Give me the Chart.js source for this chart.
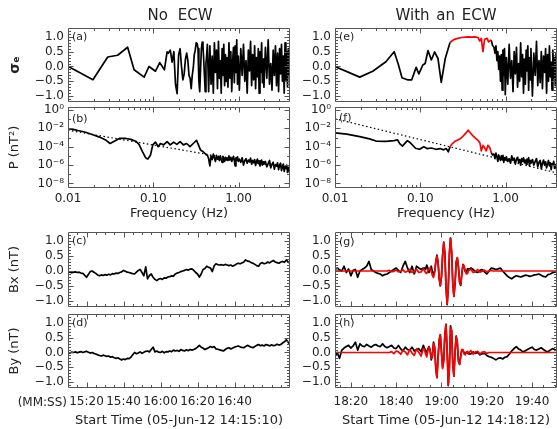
<!DOCTYPE html>
<html><head><meta charset="utf-8">
<script src="https://cdn.jsdelivr.net/npm/chart.js@4.4.1/dist/chart.umd.min.js"></script>
<style>
html,body{margin:0;padding:0;background:#fff;}
body{width:557px;height:429px;overflow:hidden;position:relative;font-family:'DejaVu Sans',sans-serif;color:#222;}
canvas{position:absolute;}
.t{position:absolute;white-space:nowrap;line-height:1;}
</style></head><body>
<canvas id="pa" width="300" height="102" style="left:0px;top:14px"></canvas>
<canvas id="pb" width="300" height="130" style="left:0px;top:93px"></canvas>
<canvas id="pc" width="300" height="103" style="left:0px;top:218px"></canvas>
<canvas id="pd" width="300" height="129" style="left:0px;top:300px"></canvas>
<canvas id="pe" width="265" height="102" style="left:292px;top:14px"></canvas>
<canvas id="pf" width="265" height="130" style="left:292px;top:93px"></canvas>
<canvas id="pg" width="265" height="103" style="left:292px;top:218px"></canvas>
<canvas id="ph" width="265" height="129" style="left:292px;top:300px"></canvas>

<div class="t" style="left:180px;top:15px;transform:translate(-50%,-50%);font-size:15px;word-spacing:5px">No ECW</div>
<div class="t" style="left:446px;top:15px;transform:translate(-50%,-50%);font-size:15px;word-spacing:2px">With an ECW</div>
<div class="t" style="left:72px;top:31px;font-size:11px">(a)</div>
<div class="t" style="left:72px;top:113px;font-size:11px">(b)</div>
<div class="t" style="left:72px;top:235px;font-size:11px">(c)</div>
<div class="t" style="left:72px;top:317px;font-size:11px">(d)</div>
<div class="t" style="left:339px;top:31px;font-size:11px">(e)</div>
<div class="t" style="left:339px;top:112px;font-size:11px">(f)</div>
<div class="t" style="left:339px;top:236px;font-size:11px">(g)</div>
<div class="t" style="left:339px;top:317px;font-size:11px">(h)</div>
<div class="t" style="right:490px;top:396px;font-size:12px">(MM:SS)</div>

<script>
// ================= DATA =================
// frequency grids (Hz) used by the noisy parts of the spectra
const fG1 = [0.150,0.158,0.166,0.174,0.182,0.190,0.198,0.206,0.214,0.222,0.230,0.238,0.246,0.254,0.262,0.270,0.278,0.286,0.294,0.302,0.310,0.318,0.326,0.334,0.342,0.350,0.358,0.366,0.374,0.382,0.390,0.398,0.406,0.414,0.422];
const fG2 = [0.430,0.445,0.460,0.475,0.490,0.505,0.520,0.535,0.550,0.565,0.580,0.595,0.610,0.625,0.640,0.655,0.670,0.685,0.700,0.715];
const fG3 = [0.73,0.75,0.77,0.79,0.81,0.83,0.85,0.87,0.89,0.91,0.93,0.95,0.97,0.99,
  1.02,1.06,1.10,1.14,1.18,1.22,1.26,1.30,1.34,1.38,1.42,1.46,1.50,1.54,1.58,1.62,1.66,1.70,1.74,1.78,1.82,1.86,1.90,1.94,1.98,
  2.06,2.14,2.22,2.30,2.38,2.46,2.54,2.62,2.70,2.78,2.86,2.94,3.02,3.10,3.18,3.26,3.34,3.42,3.50,3.58,3.66,3.74,3.82,3.90,3.98];

// (a) sigma_e, no ECW
const sigASmoothF = [0.0101,0.0196,0.0292,0.0382,0.050,0.0595,0.078,0.089,0.106,0.119,0.135,0.145];
const sigASmoothV = [0.0,-0.45,0.32,0.38,0.65,-0.11,-0.36,0.0,-0.16,0.13,-0.11,0.49];
const sigAG1 = [0.45,0.55,0.15,0.5,-0.6,-0.92,0.4,0.6,0.0,-0.45,-0.25,0.25,0.45,0.2,-0.3,-0.4,-0.75,-0.3,-0.05,0.4,0.55,0.8,0.78,0.6,-0.5,-0.85,-0.1,0.6,0.82,0.7,0.2,-0.35,-0.85,0.1,0.38];
const sigAG2 = [0.75,-0.85,0.7,-0.6,0.35,-0.9,0.8,-0.2,0.55,-0.75,0.85,-0.4,0.2,-0.9,0.6,-0.3,0.75,-0.65,0.4,-0.5];
const sigAG3 = [0.3,-0.7,0.8,-0.4,0.5,-0.85,0.15,0.65,-0.55,0.7,-0.2,0.9,-0.6,0.35,
  -0.8,0.6,-0.3,0.75,-0.5,0.2,-0.9,0.55,-0.15,0.85,-0.65,0.4,-0.45,0.7,-0.75,0.3,-0.35,0.6,-0.9,0.5,-0.2,0.8,-0.55,0.25,-0.7,
  0.65,-0.4,0.9,-0.6,0.1,-0.8,0.55,-0.3,0.7,-0.65,0.45,-0.85,0.6,-0.25,0.75,-0.5,0.35,-0.9,0.8,-0.45,0.5,-0.7,0.6,-0.3,0.4];

// (b) power, no ECW (log10 of nT^2)
const powBSmoothF = [0.0101,0.0126,0.0157,0.0196,0.0234,0.028,0.0311,0.0349,0.0399,0.0477,0.0545,0.0622,0.068,0.0743,0.0812,0.0863,0.0927,0.0986,0.106,0.114,0.121,0.132,0.145,0.158,0.173,0.189,0.206,0.225,0.246,0.269,0.294,0.321,0.336,0.357,0.384,0.419];
const logPowBSmooth = [-2.03,-2.2,-2.4,-2.7,-2.95,-3.3,-3.65,-3.4,-3.1,-3.1,-3.2,-3.4,-3.75,-4.5,-5.2,-5.35,-4.9,-3.8,-3.5,-4.0,-3.65,-3.8,-3.45,-3.8,-3.5,-3.75,-3.45,-3.8,-3.65,-4.0,-3.65,-3.3,-3.75,-4.35,-4.55,-4.9];
const logPowBG2 = [-4.9,-5.3,-6.1,-5.0,-5.4,-4.8,-5.2,-5.6,-4.95,-5.35,-5.1,-5.5,-5.0,-5.4,-5.7,-5.05,-5.3,-5.6,-5.15,-5.45];
const logPowBG3 = [-5.2,-5.5,-5.0,-5.45,-5.15,-5.6,-5.3,-5.05,-5.5,-6.1,-5.2,-5.45,-5.1,-5.6,
  -5.35,-5.7,-5.2,-6.0,-5.5,-5.3,-5.8,-5.45,-5.65,-5.25,-5.9,-5.5,-5.75,-5.4,-6.05,-5.6,-5.35,-5.85,-5.55,-6.1,-5.7,-5.45,-6.0,-5.65,-5.9,
  -5.6,-6.2,-5.85,-5.5,-6.3,-5.9,-5.7,-6.45,-5.95,-6.1,-5.75,-6.5,-6.0,-5.8,-6.6,-6.15,-5.9,-6.7,-6.2,-6.35,-6.0,-6.8,-6.25,-6.5,-6.9];
const fitF = [0.01, 4];
const logFitB = [-2.2, -6.4];

// (e) sigma_e, with ECW
const sigESmoothF = [0.01,0.0195,0.0277,0.0395,0.0494,0.0555,0.061,0.0705,0.0793,0.0893,0.0961,0.107,0.114,0.123,0.1347,0.147,0.161,0.176,0.196,0.223];
const sigESmoothV = [0.0,-0.36,-0.16,0.16,0.5,0.05,-0.38,-0.45,-0.45,-0.03,-0.25,0.05,0.1,0.54,0.22,0.49,0.27,-0.54,0.27,0.81];
const sigERedF = [0.223,0.244,0.267,0.305,0.335,0.364,0.40,0.434,0.475,0.496,0.519,0.542,0.567,0.608,0.631,0.677];
const sigERedV = [0.81,0.9,0.94,0.98,0.99,1.0,0.99,1.0,0.98,0.86,0.95,0.5,0.92,0.95,0.83,0.9];
const sigELinkF = [0.677,0.70];
const sigELinkV = [0.9,0.72];
const sigEG3 = [0.65,0.45,0.7,0.2,0.5,-0.1,0.35,-0.5,0.4,-0.8,0.55,-0.3,0.6,-0.95,
  0.3,-0.6,0.75,-0.4,0.2,-0.85,0.5,-0.25,0.65,-0.7,0.1,-0.5,0.8,-0.35,0.4,-0.9,0.25,-0.6,0.55,-0.15,0.7,-0.8,0.3,-0.45,0.6,
  -1.0,0.45,-0.3,0.85,-0.65,0.2,-0.55,0.5,-0.75,0.35,-0.2,0.6,-0.9,0.4,-0.5,0.7,-0.35,0.15,-0.8,0.55,-0.4,0.3,-0.65,0.45,-0.1];

// (f) power, with ECW (log10 of nT^2)
const powFSmoothF = [0.01,0.0137,0.0195,0.0254,0.0303,0.0396,0.0494,0.054,0.0574,0.0617,0.0705,0.0769,0.0879,0.0978,0.11,0.12,0.1347,0.152,0.171,0.187,0.201,0.213,0.223];
const logPowFSmooth = [-2.48,-2.62,-2.9,-3.14,-3.38,-3.41,-3.34,-3.24,-3.66,-3.93,-3.34,-3.59,-4.17,-4.28,-4.0,-4.2,-4.14,-4.28,-4.2,-4.34,-4.2,-4.55,-4.0];
const powFRedF = [0.223,0.238,0.255,0.279,0.299,0.318,0.339,0.364,0.391,0.415,0.442,0.475,0.5,0.519,0.542,0.567,0.592,0.619,0.653,0.677];
const logPowFRed = [-4.0,-3.66,-3.41,-3.24,-3.07,-2.83,-2.55,-2.2,-2.55,-2.83,-3.07,-3.31,-3.59,-4.45,-3.86,-4.1,-4.45,-3.86,-4.1,-4.62];
const powFLinkF = [0.677,0.70];
const logPowFLink = [-4.62,-4.9];
const logPowFG3 = [-4.8,-5.3,-4.7,-5.1,-5.6,-4.9,-5.2,-5.5,-5.0,-5.4,-4.95,-5.7,-5.2,-5.45,
  -5.1,-5.6,-5.3,-5.8,-5.0,-5.5,-5.25,-5.9,-5.35,-5.15,-5.7,-5.4,-6.0,-5.3,-5.6,-5.2,-5.75,-5.45,-5.9,-5.35,-5.65,-5.2,-6.1,-5.5,-5.8,
  -5.4,-6.0,-5.6,-5.3,-6.2,-5.7,-5.5,-6.4,-5.8,-5.45,-6.0,-5.65,-6.3,-5.9,-5.5,-6.1,-5.75,-6.5,-5.85,-6.0,-5.6,-6.35,-5.95,-6.2,-6.6];
const logFitF = [-0.95, -6.86];

// (c),(d) time series, no ECW: seconds after 14:15:10
const tLeft = [0,1,2,3,4,5,6,7,8,9,10,11,12,13,14,15,16,17,18,19,20,21,22,23,24,25,26,27,28,29,30,31,32,33,34,35,36,37,38,39,40,41,42,43,44,45,46,47,48,49,50,51,52,53,54,55,56,57,58,59,60,61,62,63,64,65,66,67,68,69,70,71,72,73,74,75,76,77,78,79,80,81,82,83,84,85,86,87,88,89,90,91,92,93,94,95,96,97,98,99,100,101,102,103,104,105,106,107,108,109,110,111,112,113,114,115,116,117,118,119,120];
const bxLeft = [-0.05,-0.03,-0.06,-0.04,-0.03,-0.05,-0.04,-0.07,-0.08,-0.14,
  -0.21,-0.12,-0.02,0.0,-0.04,-0.08,-0.13,-0.16,-0.13,-0.15,
  -0.12,-0.14,-0.11,-0.13,-0.09,-0.1,-0.07,-0.08,-0.05,-0.03,
  0.02,-0.01,-0.04,-0.05,-0.07,-0.09,-0.1,-0.04,0.02,0.05,
  -0.05,-0.16,0.14,-0.26,-0.15,-0.1,-0.21,-0.28,-0.32,-0.27,
  -0.25,-0.28,-0.23,-0.24,-0.2,-0.19,-0.16,-0.17,-0.1,-0.07,
  -0.05,-0.02,0.0,0.02,0.05,0.03,0.06,0.07,0.02,-0.05,
  -0.1,-0.2,-0.1,0.05,0.08,0.16,0.12,0.1,-0.02,0.17,
  0.24,0.21,0.2,0.21,0.19,0.22,0.2,0.18,0.2,0.16,
  0.19,0.23,0.26,0.24,0.27,0.3,0.37,0.33,0.32,0.28,
  0.26,0.22,0.18,0.16,0.25,0.28,0.24,0.26,0.3,0.27,
  0.32,0.35,0.3,0.28,0.26,0.3,0.32,0.29,0.37,0.3,
  0.26];
const byLeft = [0.0,-0.02,0.01,0.0,0.02,-0.01,0.01,0.03,0.0,0.02,
  0.04,0.01,-0.02,0.0,-0.03,-0.05,-0.08,-0.1,-0.12,-0.09,
  -0.11,-0.13,-0.12,-0.16,-0.14,-0.18,-0.2,-0.18,-0.22,-0.25,
  -0.22,-0.24,-0.2,-0.21,-0.16,-0.08,0.0,-0.04,-0.02,0.02,
  -0.03,0.01,0.04,0.05,0.02,0.1,0.18,0.02,0.05,0.01,
  0.0,0.04,-0.01,0.03,0.02,0.05,0.03,0.08,0.05,0.07,
  0.04,0.1,0.07,0.05,0.09,0.06,0.1,0.08,0.1,0.13,
  0.18,0.24,0.18,0.15,0.1,0.13,0.16,0.2,0.17,0.2,
  0.12,0.11,0.09,0.07,0.05,0.1,0.14,0.16,0.12,0.15,
  0.18,0.2,0.22,0.19,0.17,0.16,0.2,0.24,0.21,0.18,
  0.16,0.2,0.24,0.27,0.23,0.25,0.22,0.27,0.25,0.22,
  0.26,0.23,0.24,0.28,0.25,0.27,0.32,0.36,0.43,0.35,
  0.27];

// (g),(h) time series, with ECW: seconds after 14:18:12
const tRight = [1,2,3,4,5,6,7,8,9,10,11,12,13,14,15,16,17,18,19,20,21,22,23,24,25,26,27,28,29,30,31,32,33,34,35,36,37,38,39,40,
  40.5,41,41.5,42,42.5,43,43.5,44,44.5,45,45.5,46,46.5,47,47.5,48,48.5,49,49.5,50,50.5,51,51.5,52,52.5,53,53.5,54,54.5,55,55.5,56,56.5,57,57.5,58,58.5,59,59.5,60,
  61,62,63,64,65,66,67,68,69,70,71,72,73,74,75,76,77,78,79,80,81,82,83,84,85,86,87,88,89,90,91,92,93,94,95,96,97,98,99];
const bxRight = [0.05,0.1,0.04,0.0,0.16,-0.05,0.07,-0.16,0.02,0.05,
  -0.21,0.0,0.05,0.1,0.16,0.32,0.05,0.0,-0.05,-0.08,
  -0.1,-0.16,-0.12,-0.1,-0.05,0.0,0.05,0.1,0.02,-0.05,
  0.16,0.32,0.1,-0.05,0.16,-0.1,0.16,0.1,0.05,0.1,
  0.1,0.05,0.2,0.1,-0.05,0.05,0.16,-0.02,-0.1,0.0,
  0.3,0.53,0.28,-0.25,-0.5,-0.18,0.52,0.96,0.58,-0.52,
  -1.12,-0.58,0.58,1.1,0.62,-0.42,-0.85,-0.42,0.3,0.43,
  0.12,-0.38,-0.48,-0.08,0.22,0.12,-0.02,-0.05,0.08,0.05,
  0.1,0.05,-0.02,-0.05,0.02,0.05,-0.03,-0.1,0.0,0.1,
  0.08,0.05,0.07,0.1,0.0,-0.08,-0.16,-0.22,-0.26,-0.2,
  -0.16,-0.18,-0.2,-0.17,-0.14,-0.15,-0.18,-0.16,-0.13,-0.12,
  -0.1,-0.14,-0.18,-0.2,-0.12,-0.1,-0.06,-0.04,0.0];
const bxRightFit = [0,0,0,0,0,0,0,0,0,0,0,0,0,0,0,0,0,0,0,0,0,0,0,0,
  0.02,-0.02,-0.01,0.03,-0.03,-0.01,0.04,-0.04,-0.01,0.05,-0.05,-0.02,0.06,-0.05,-0.03,0.07,
  0.02,-0.06,-0.08,0.0,0.08,0.1,0.0,-0.15,-0.22,-0.05,
  0.3,0.5,0.3,-0.25,-0.48,-0.2,0.5,0.95,0.6,-0.5,
  -1.1,-0.6,0.55,1.1,0.6,-0.45,-0.85,-0.4,0.3,0.45,
  0.15,-0.35,-0.45,-0.1,0.2,0.18,0.0,-0.1,-0.08,0.02,
  0.06,-0.05,-0.02,0.05,-0.04,-0.01,0.03,-0.03,0.0,0.02,
  0,0,0,0,0,0,0,0,0,0,0,0,0,0,0,0,0,0,0,0,0,0,0,0,0,0,0,0,0];
const byRight = [-0.14,0.0,-0.2,0.08,0.15,0.2,0.24,0.15,0.22,0.35,
  0.08,0.29,0.22,0.2,0.27,0.22,0.18,0.24,0.27,0.22,
  0.2,0.29,0.2,0.16,0.2,0.24,0.15,0.13,0.24,0.12,
  0.05,0.18,0.1,0.08,0.18,0.05,0.1,0.13,0.02,0.24,
  0.15,0.05,0.0,0.12,0.2,0.08,-0.25,-0.1,0.35,0.15,
  -0.55,-0.85,-0.15,0.42,0.6,0.02,-0.5,-0.25,0.62,0.95,
  0.05,-1.12,-0.5,0.9,0.7,-0.42,-0.8,0.05,0.55,0.3,
  -0.3,-0.4,-0.1,0.1,0.05,0.0,-0.05,0.02,-0.03,-0.05,
  -0.05,0.02,-0.03,0.0,-0.08,-0.04,-0.03,-0.1,-0.14,-0.16,
  -0.2,-0.25,-0.2,-0.18,-0.22,-0.16,-0.14,-0.05,0.05,0.13,
  0.2,0.12,0.08,0.02,0.06,0.1,0.14,0.18,0.1,0.08,
  0.12,0.16,0.1,0.05,0.02,0.08,0.13,0.1,0.08];
const byRightFit = [0,0,0,0,0,0,0,0,0,0,0,0,0,0,0,0,0,0,0,0,0,0,0,0,0,
  0.03,-0.04,0.05,0.02,-0.06,0.07,0.02,-0.08,0.1,-0.02,-0.1,0.12,0.0,-0.12,0.14,
  0.1,-0.05,-0.15,0.05,0.18,0.05,-0.2,-0.15,0.3,0.2,
  -0.5,-0.85,-0.2,0.4,0.6,0.0,-0.55,-0.3,0.6,0.95,
  0.1,-1.1,-0.55,0.85,0.75,-0.4,-0.8,0.0,0.55,0.35,
  -0.25,-0.4,-0.15,0.1,0.1,-0.05,-0.08,0.0,0.04,-0.02,
  0.06,-0.06,0.02,0.04,-0.05,0.01,0.03,-0.03,0.0,
  0,0,0,0,0,0,0,0,0,0,0,0,0,0,0,0,0,0,0,0,0,0,0,0,0,0,0,0,0,0];

// tick values and labels
const linTickVals = [-1, -0.5, 0, 0.5, 1];
const linTickLabels = ['\u22121.0', '\u22120.5', '0.0', '0.5', '1.0'];
const logTickVals = [1e-8, 1e-6, 1e-4, 1e-2, 1];
const logTickLabels = ['10\u207B\u2078', '10\u207B\u2076', '10\u207B\u2074', '10\u207B\u00B2', '10\u2070'];
const freqTickVals = [0.01, 0.1, 1];
const freqTickLabels = ['0.01', '0.10', '1.00'];
const timeTickValsLeft = [10, 30, 50, 70, 90];
const timeTickLabelsLeft = ['15:20', '15:40', '16:00', '16:20', '16:40'];
const timeTickValsRight = [8, 28, 48, 68, 88];
const timeTickLabelsRight = ['18:20', '18:40', '19:00', '19:20', '19:40'];

// minor tick marks (frame decoration)
const linMinor = [-1.1,-0.9,-0.8,-0.7,-0.6,-0.4,-0.3,-0.2,-0.1,0.1,0.2,0.3,0.4,0.6,0.7,0.8,0.9,1.1,1.2];
const logMinor = [1e-7, 1e-5, 1e-3, 1e-1];
const freqMinor = [0.02,0.03,0.04,0.05,0.06,0.07,0.08,0.09,0.2,0.3,0.4,0.5,0.6,0.7,0.8,0.9,2,3];
const timeMinorLeft = [5,15,20,25,35,40,45,55,60,65,75,80,85,95,100,105,110,115];
const timeMinorRight = [3,13,18,23,33,38,43,53,58,63,73,78,83,93,98];

// ================= RENDERING =================
Chart.defaults.font.family = "'DejaVu Sans', sans-serif";
Chart.defaults.font.size = 12;
Chart.defaults.color = '#222';

const framePlugin = {
  id: 'idlFrame',
  afterDatasetsDraw(chart, args, o) {
    const ctx = chart.ctx, a = chart.chartArea, xs = chart.scales.x, ys = chart.scales.y;
    const L = Math.round(a.left) + 0.5, R = Math.round(a.right) - 0.5;
    const T = Math.round(a.top) + 0.5, B = Math.round(a.bottom) - 0.5;
    ctx.save();
    ctx.strokeStyle = '#555';
    ctx.lineWidth = 1;
    ctx.beginPath();
    ctx.rect(L, T, R - L, B - T);
    const tx = (vals, len) => vals.forEach(v => {
      const p = Math.round(xs.getPixelForValue(v)) + 0.5;
      if (p < L || p > R) return;
      ctx.moveTo(p, B); ctx.lineTo(p, B - len);
      ctx.moveTo(p, T); ctx.lineTo(p, T + len);
    });
    const ty = (vals, len) => vals.forEach(v => {
      const p = Math.round(ys.getPixelForValue(v)) + 0.5;
      if (p < T || p > B) return;
      ctx.moveTo(L, p); ctx.lineTo(L + len, p);
      ctx.moveTo(R, p); ctx.lineTo(R - len, p);
    });
    tx(o.xMajor, 5); tx(o.xMinor, 2.5); ty(o.yMajor, 5); ty(o.yMinor, 2.5);
    ctx.stroke();
    ctx.restore();
  }
};

function pts(xs, ys, isLog) {
  return xs.map((x, i) => ({ x: x, y: isLog ? Math.pow(10, ys[i]) : ys[i] }));
}
function ds(data, color, width, order, extra) {
  return Object.assign({ data: data, borderColor: color, backgroundColor: color, borderWidth: width,
    pointRadius: 0, fill: false, tension: 0, borderJoinStyle: 'round', order: order }, extra || {});
}
const BLACK = '#000000', RED = '#ff0000';
const LW = 1.7, RW = 1.7;

function yTitle(text, bold) {
  return { display: true, text: text, color: '#222', padding: { top: 7, bottom: 0 },
    font: { size: bold ? 14 : 13, weight: bold ? 'bold' : 'normal' } };
}
function yLinear(width, title) {
  return {
    type: 'linear', min: -1.2, max: 1.3,
    afterBuildTicks: s => { s.ticks = linTickVals.map(v => ({ value: v })); },
    afterFit: s => { s.width = width; },
    ticks: { padding: 4, callback: v => linTickLabels[linTickVals.indexOf(v)] },
    grid: { display: false, drawTicks: false }, border: { display: false },
    title: title || { display: false }
  };
}
function yLog(width, title) {
  return {
    type: 'logarithmic', min: Math.pow(10, -8.5), max: Math.pow(10, 0.33),
    afterBuildTicks: s => { s.ticks = logTickVals.map(v => ({ value: v })); },
    afterFit: s => { s.width = width; },
    ticks: { padding: 4, callback: v => logTickLabels[logTickVals.indexOf(v)] },
    grid: { display: false, drawTicks: false }, border: { display: false },
    title: title || { display: false }
  };
}
function xFreq(show) {
  return {
    type: 'logarithmic', min: 0.01, max: 4, display: show,
    afterBuildTicks: s => { s.ticks = freqTickVals.map(v => ({ value: v })); },
    afterFit: s => { s.height = show ? 33 : 0; },
    ticks: { padding: 4, maxRotation: 0, autoSkip: false, callback: v => freqTickLabels[freqTickVals.indexOf(v)] },
    grid: { display: false, drawTicks: false }, border: { display: false },
    title: { display: true, text: 'Frequency (Hz)', color: '#222', font: { size: 13 }, padding: { top: 0, bottom: 0 } }
  };
}
function xTime(show, min, max, vals, labels, start) {
  return {
    type: 'linear', min: min, max: max, display: show,
    afterBuildTicks: s => { s.ticks = vals.map(v => ({ value: v })); },
    afterFit: s => { s.height = show ? 40 : 0; },
    ticks: { padding: 7, maxRotation: 0, autoSkip: false, callback: v => labels[vals.indexOf(v)] },
    grid: { display: false, drawTicks: false }, border: { display: false },
    title: { display: true, text: 'Start Time (' + start + ')', color: '#222', font: { size: 13 }, padding: { top: 0, bottom: 0 } }
  };
}
function make(id, datasets, xScale, yScale, pad, frame) {
  return new Chart(document.getElementById(id), {
    type: 'line',
    data: { datasets: datasets },
    options: {
      responsive: false, animation: false, events: [],
      layout: { padding: pad },
      plugins: { legend: { display: false }, tooltip: { enabled: false }, idlFrame: frame },
      scales: { x: xScale, y: yScale }
    },
    plugins: [framePlugin]
  });
}

const frFreqLin = { xMajor: freqTickVals, xMinor: freqMinor, yMajor: linTickVals, yMinor: linMinor };
const frFreqLog = { xMajor: freqTickVals, xMinor: freqMinor, yMajor: logTickVals, yMinor: logMinor };
const frTimeL = { xMajor: timeTickValsLeft, xMinor: timeMinorLeft, yMajor: linTickVals, yMinor: linMinor };
const frTimeR = { xMajor: timeTickValsRight, xMinor: timeMinorRight, yMajor: linTickVals, yMinor: linMinor };

const padTopPanel = (right) => ({ top: 14, bottom: 14, left: 0, right: right });

// (a)
make('pa', [
  ds(pts(sigASmoothF.concat(fG1, fG2, fG3), sigASmoothV.concat(sigAG1, sigAG2, sigAG3)), BLACK, LW, 0)
], xFreq(false), yLinear(68, yTitle('\u03C3\u2091', true)), padTopPanel(10), frFreqLin);

// (b)
make('pb', [
  ds(pts(fitF, logFitB, true), BLACK, 1.2, 1, { borderDash: [1.5, 2.5] }),
  ds(pts(powBSmoothF.concat(fG2, fG3), logPowBSmooth.concat(logPowBG2, logPowBG3), true), BLACK, LW, 0)
], xFreq(true), yLog(68, yTitle('P (nT\u00B2)', false)), { top: 14, bottom: 2, left: 0, right: 10 }, frFreqLog);

// (c)
make('pc', [
  ds(pts(tLeft, bxLeft), BLACK, LW, 0)
], xTime(false, 0, 120, timeTickValsLeft, timeTickLabelsLeft, '05-Jun-12 14:15:10'),
  yLinear(68, yTitle('Bx (nT)', false)), padTopPanel(10), frTimeL);

// (d)
make('pd', [
  ds(pts(tLeft, byLeft), BLACK, LW, 0)
], xTime(true, 0, 120, timeTickValsLeft, timeTickLabelsLeft, '05-Jun-12 14:15:10'),
  yLinear(68, yTitle('By (nT)', false)), { top: 14, bottom: 1, left: 0, right: 10 }, frTimeL);

// (e)
make('pe', [
  ds(pts(sigERedF, sigERedV), RED, RW, 0),
  ds(pts(sigESmoothF, sigESmoothV), BLACK, LW, 1),
  ds(pts(sigELinkF.concat(fG3), sigELinkV.concat(sigEG3)), BLACK, LW, 1)
], xFreq(false), yLinear(43, null), padTopPanel(0), frFreqLin);

// (f)
make('pf', [
  ds(pts(powFRedF, logPowFRed, true), RED, RW, 0),
  ds(pts(fitF, logFitF, true), BLACK, 1.2, 2, { borderDash: [1.5, 2.5] }),
  ds(pts(powFSmoothF, logPowFSmooth, true), BLACK, LW, 1),
  ds(pts(powFLinkF.concat(fG3), logPowFLink.concat(logPowFG3), true), BLACK, LW, 1)
], xFreq(true), yLog(43, null), { top: 14, bottom: 2, left: 0, right: 0 }, frFreqLog);

// (g)
make('pg', [
  ds(pts(tRight, bxRightFit), RED, RW, 0),
  ds(pts(tRight, bxRight), BLACK, LW, 1)
], xTime(false, 1, 99, timeTickValsRight, timeTickLabelsRight, '05-Jun-12 14:18:12'),
  yLinear(43, null), padTopPanel(0), frTimeR);

// (h)
make('ph', [
  ds(pts(tRight, byRightFit), RED, RW, 0),
  ds(pts(tRight, byRight), BLACK, LW, 1)
], xTime(true, 1, 99, timeTickValsRight, timeTickLabelsRight, '05-Jun-12 14:18:12'),
  yLinear(43, null), { top: 14, bottom: 1, left: 0, right: 0 }, frTimeR);
</script>
</body></html>
